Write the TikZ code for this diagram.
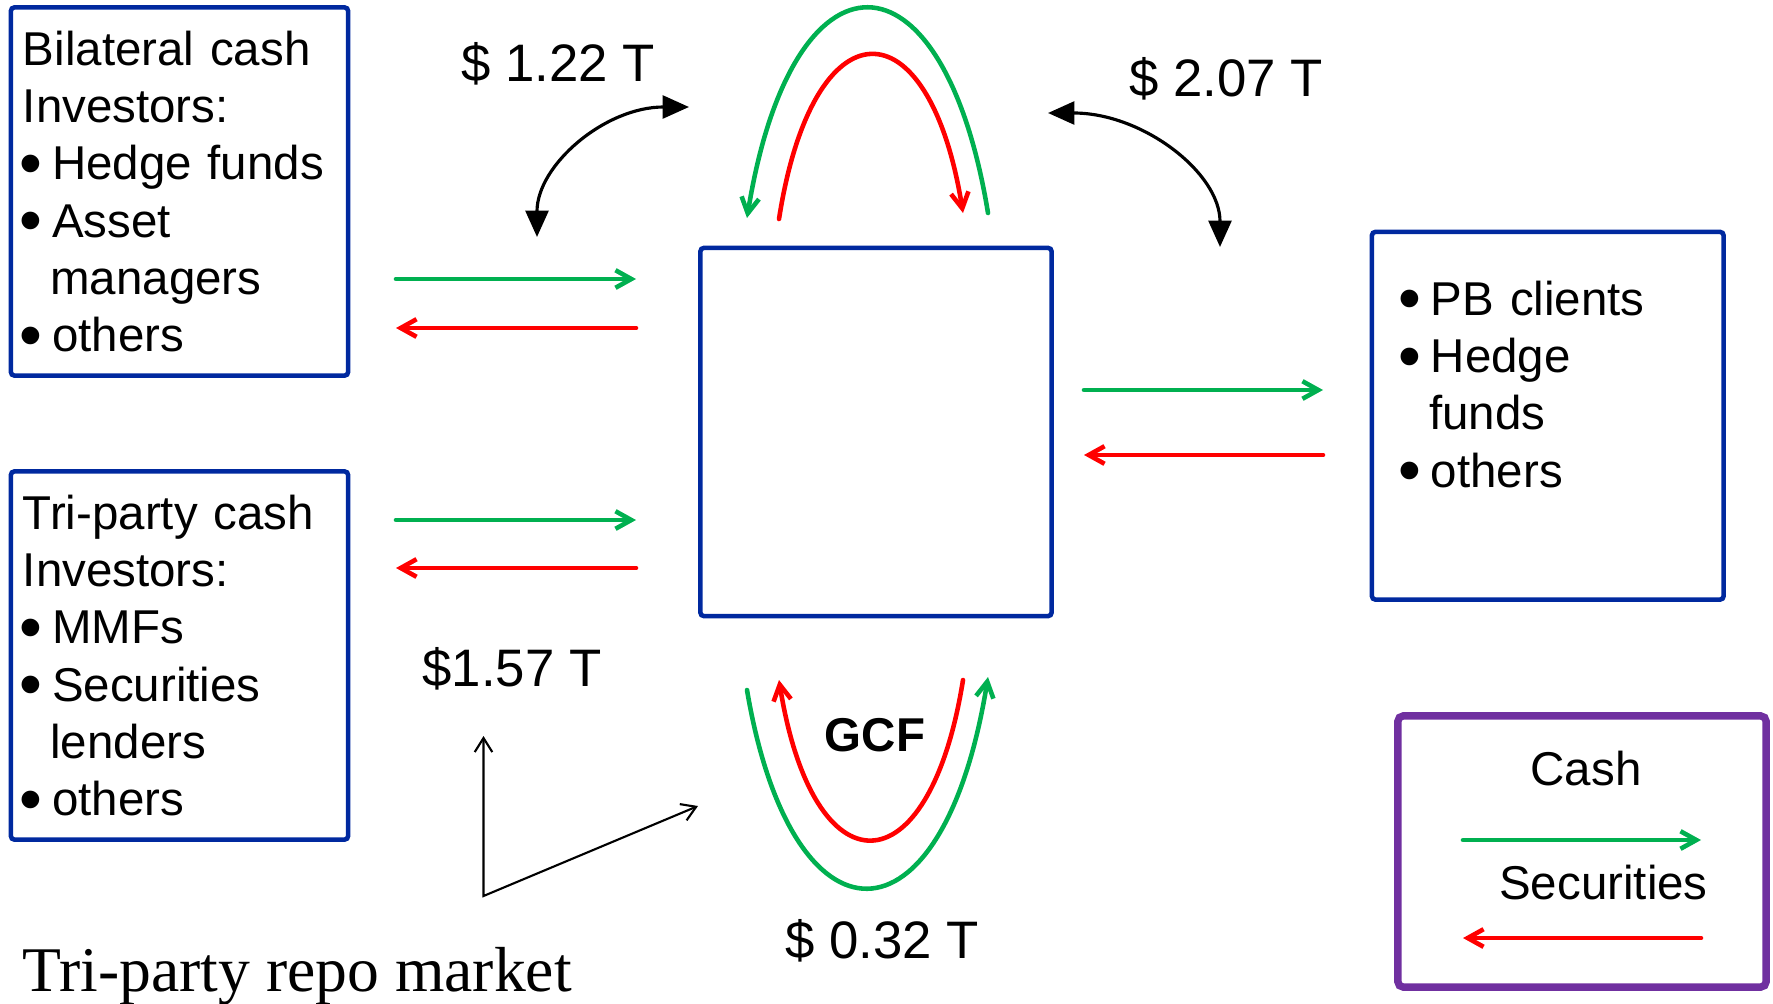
\documentclass[tikz,border=0pt]{standalone}
\usepackage{fontspec}
\setmainfont{Liberation Sans}
\newfontfamily\titlefont{Liberation Serif}
\usetikzlibrary{arrows.meta, positioning, calc}

\definecolor{boxblue}{HTML}{00299F}
\definecolor{cashgreen}{HTML}{00B050}
\definecolor{secred}{HTML}{FF0000}
\definecolor{legpurple}{HTML}{7030A0}

\newcommand{\itm}{\makebox[8.3pt][l]{\hspace*{-1pt}\raisebox{-1.65pt}[0pt][0pt]{\scalebox{1.37}{\textbullet}}}}
\newcommand{\itmgap}{\hspace*{7.8pt}}

\begin{document}
\begin{tikzpicture}[
  x=0.01cm, y=-0.01cm,
  box/.style={draw=boxblue, line width=1.3pt, rounded corners=1pt,
              minimum width=3.37cm, minimum height=3.68cm, inner xsep=0.12cm,
              inner ysep=0pt, text width=3.13cm, align=left,
              font=\fontsize{13.5}{16.3}\selectfont},
  plainbox/.style={draw=boxblue, line width=1.3pt, rounded corners=1pt},
  legbox/.style={draw=legpurple, line width=2.1pt, rounded corners=1.5pt,
                 minimum width=3.68cm, minimum height=2.71cm},
  list/.style={inner sep=0pt, text width=3cm, align=left,
               font=\fontsize{13.5}{16.3}\selectfont},
  legtext/.style={inner sep=0pt, font=\fontsize{13.5}{16.3}\selectfont},
  amount/.style={inner sep=0pt, font=\fontsize{15}{18}\selectfont},
  cash/.style={cashgreen, line width=1.3pt, line cap=round,
               -{Straight Barb[length=4.5pt, width=5pt]}},
  sec/.style={secred, line width=1.3pt, line cap=round,
              -{Straight Barb[length=4.5pt, width=5pt]}},
  dbl/.style={black, line width=0.9pt,
              {Triangle[length=7.5pt, width=6.5pt]}-{Triangle[length=7.5pt, width=6.5pt]}},
  pointer/.style={black, line width=0.6pt,
                  {Straight Barb[length=4pt, width=5pt]}-{Straight Barb[length=4pt, width=5pt]}}
]
\useasboundingbox (0,0) rectangle (1773,1003);

% boxes
\node[box] (bil) at (179.5,191.5)
  {Bilateral cash\\ Investors:\\ \itm Hedge funds\\ \itm Asset\\ \itmgap managers\\ \itm others};
\node[box] (tri) at (179.5,655.5)
  {Tri-party cash\\ Investors:\\ \itm MMFs\\ \itm Securities\\ \itmgap lenders\\ \itm others};
\node[plainbox, minimum width=3.51cm, minimum height=3.68cm] (dealer) at (876,432) {};
\node[plainbox, minimum width=3.515cm, minimum height=3.675cm] (pb) at (1547.75,415.75) {};
\node[list, anchor=north west] (pbtext) at (1401,280)
  {\itm PB clients\\ \itm Hedge\\ \itmgap funds\\ \itm others};

% legend
\node[legbox] (leg) at (1582,851.5) {};
\node[legtext, anchor=base] (cashlbl) at (1586,785) {Cash};
\node[legtext, anchor=base] (seclbl) at (1603.5,899) {Securities};

% amounts
\node[amount, anchor=base] (v122) at (558,81) {\$ 1.22 T};
\node[amount, anchor=base] (v207) at (1226,97) {\$ 2.07 T};
\node[amount, anchor=base] (v157) at (512,686) {\$1.57 T};
\node[amount, anchor=base] (v032) at (882,958) {\$ 0.32 T};
\node[legtext, anchor=base, font=\fontsize{13.5}{16.3}\selectfont\bfseries] (gcf) at (875,751) {GCF};
\node[anchor=base west, inner sep=0pt, font=\titlefont\fontsize{18.1}{20}\selectfont] (title)
  at (22,991) {Tri-party repo market};

% arrow ends
\coordinate (bilCl) at (396,279); \coordinate (bilCr) at (636,279);
\coordinate (bilSl) at (396,328); \coordinate (bilSr) at (636,328);
\coordinate (triCl) at (396,520); \coordinate (triCr) at (636,520);
\coordinate (triSl) at (396,568); \coordinate (triSr) at (636,568);
\coordinate (pbCl) at (1084,390); \coordinate (pbCr) at (1323,390);
\coordinate (pbSl) at (1084,455); \coordinate (pbSr) at (1323,455);
\coordinate (legCl) at (1463,840); \coordinate (legCr) at (1701,840);
\coordinate (legSl) at (1463,938); \coordinate (legSr) at (1701,938);

\draw[cash] (bilCl) -- (bilCr);
\draw[sec] (bilSr) -- (bilSl);
\draw[cash] (triCl) -- (triCr);
\draw[sec] (triSr) -- (triSl);
\draw[cash] (pbCl) -- (pbCr);
\draw[sec] (pbSr) -- (pbSl);
\draw[cash] (legCl) -- (legCr);
\draw[sec] (legSr) -- (legSl);

% loops above and below the dealer box
\coordinate (topGs) at (988,213); \coordinate (topGe) at (747,218);
\coordinate (topRs) at (779,219); \coordinate (topRe) at (963,213);
\coordinate (botGs) at (747,690); \coordinate (botGe) at (988,677);
\coordinate (botRs) at (963,680); \coordinate (botRe) at (779,680);
\draw[cash] (topGs) .. controls (943,-61) and (792,-61) .. (topGe);
\draw[sec] (topRs) .. controls (813,1) and (929,1) .. (topRe);
\draw[cash] (botGs) .. controls (792,956) and (943,956) .. (botGe);
\draw[sec] (botRs) .. controls (929,893) and (813,893) .. (botRe);

% volume markers
\coordinate (bilLo) at (537,237); \coordinate (bilHi) at (689,107);
\coordinate (pbHi) at (1048,113); \coordinate (pbLo) at (1220,247);
\draw[dbl] (bilLo) .. controls (537,165) and (605,107) .. (bilHi);
\draw[dbl] (pbHi) .. controls (1143,113) and (1220,173) .. (pbLo);

% pointer
\coordinate (ptUp) at (483.5,736); \coordinate (ptCorner) at (483.5,896);
\coordinate (ptRight) at (698,806);
\draw[pointer] (ptUp) -- (ptCorner) -- (ptRight);
\end{tikzpicture}
\end{document}
